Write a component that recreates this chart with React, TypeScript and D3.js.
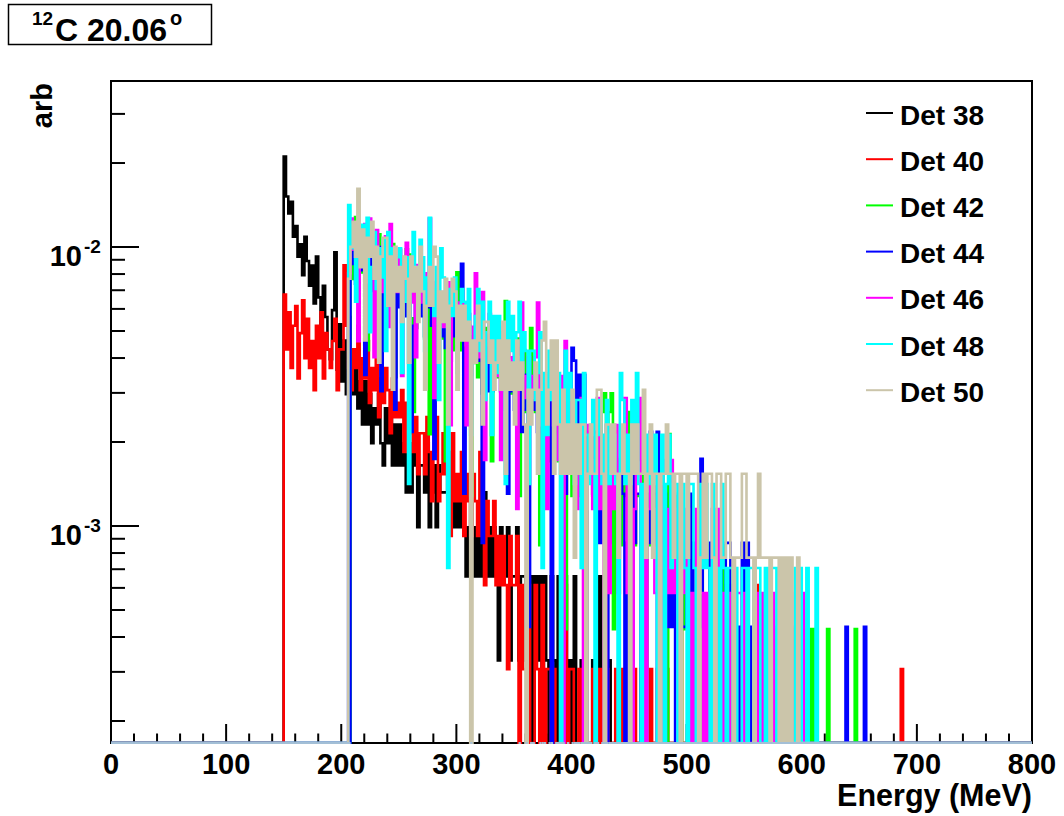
import React from "react";
import * as d3 from "d3";

// Energy spectra, 2 MeV bins. Each detector: first bin edge (MeV), counts per bin, value per count.
const BIN_WIDTH = 2;
const X_TICKS = [0, 100, 200, 300, 400, 500, 600, 700, 800];
const Y_MAJOR = [1e-3, 1e-2];
const Y_LABELS = ["-3", "-2"];

const det38Start = 150;
const det38Unit = 3.3e-4;
const det38Counts = [
  64, 46, 40, 44, 33, 36, 28, 31, 24, 33, 27, 22, 26, 19, 28, 20, 15, 22, 17, 13,
  12, 18, 29, 11, 16, 10, 14, 9, 17, 12, 9, 12, 8, 10, 7, 10, 7, 9, 6, 8,
  7, 9, 6, 5, 8, 6, 8, 5, 7, 5, 7, 5, 6, 4, 6, 4, 6, 5, 3, 5,
  5, 4, 6, 3, 4, 5, 3, 5, 4, 4, 4, 5, 3, 4, 3, 4, 3, 4, 3, 2,
  3, 4, 2, 3, 2, 3, 2, 4, 2, 3, 2, 3, 2, 1, 3, 2, 2, 3, 1, 2,
  2, 3, 1, 2, 2, 1, 2, 2, 0, 2, 1, 2, 0, 2, 1, 0, 2, 1, 0, 2,
  1, 0, 2, 0, 1, 0, 2, 0, 0, 1, 0, 2, 0, 0, 1, 0, 0, 2, 0, 0,
  0, 1, 0, 0, 0,
];

const det40Start = 150;
const det40Unit = 3.07e-4;
const det40Counts = [
  22, 14, 19, 12, 17, 20, 11, 16, 21, 13, 18, 12, 15, 10, 17, 13, 19, 11, 16, 14,
  12, 15, 18, 10, 14, 14, 28, 17, 12, 10, 14, 12, 17, 10, 13, 11, 15, 9, 12, 10,
  13, 8, 11, 9, 12, 10, 7, 11, 8, 9, 8, 10, 6, 9, 7, 9, 6, 8, 5, 7,
  7, 5, 8, 6, 4, 6, 8, 4, 5, 7, 5, 6, 3, 7, 4, 5, 4, 6, 3, 5,
  4, 3, 5, 4, 3, 6, 3, 2, 4, 3, 3, 4, 2, 3, 2, 3, 2, 1, 3, 2,
  2, 3, 0, 2, 1, 1, 2, 0, 0, 2, 1, 0, 2, 0, 1, 1, 0, 1, 0, 0,
  0, 1, 2, 0, 1, 1, 0, 0, 1, 0, 0, 1, 0, 0, 1, 0, 0, 1, 0, 0,
  1, 0, 0, 0, 1, 0, 1, 0, 1, 0, 0, 2, 1, 0, 0, 1, 0, 0, 0, 1,
  0, 0, 1, 0, 0, 0, 1, 0, 0, 0, 0, 0, 4, 0, 0, 0, 0, 0, 1, 0,
  0, 0, 0, 0, 0, 0, 0, 0, 0, 0, 0, 0, 2, 2, 0, 0, 0, 0, 0, 1,
  0, 0, 0, 0, 0, 2, 0, 0, 0, 0, 0, 0, 0, 0, 0, 0, 0, 0, 0, 0,
  0, 0, 0, 0, 0, 0, 0, 0, 0, 0, 0, 0, 0, 0, 0, 0, 0, 0, 0, 0,
  0, 0, 0, 0, 0, 0, 0, 0, 0, 0, 0, 0, 0, 0, 0, 0, 0, 0, 0, 0,
  0, 0, 0, 0, 0, 0, 0, 0, 1, 0,
];

const det42Start = 208;
const det42Unit = 4.27e-4;
const det42Counts = [
  18, 24, 30, 21, 26, 19, 27, 10, 25, 17, 23, 20, 26, 9, 21, 17, 22, 19, 24, 8,
  20, 15, 18, 14, 23, 22, 13, 6, 12, 15, 14, 18, 11, 15, 5, 13, 10, 14, 12, 16,
  11, 4, 9, 12, 10, 12, 19, 10, 11, 9, 10, 8, 3, 9, 11, 8, 10, 7, 9, 12,
  9, 4, 10, 8, 11, 8, 10, 15, 7, 9, 7, 8, 11, 3, 9, 10, 6, 8, 12, 7,
  6, 8, 2, 7, 5, 6, 4, 7, 5, 6, 4, 6, 5, 1, 5, 5, 3, 6, 4, 3,
  4, 5, 0, 4, 5, 3, 4, 5, 3, 6, 7, 4, 6, 7, 1, 3, 4, 2, 5, 3,
  4, 6, 0, 2, 3, 3, 2, 4, 0, 3, 2, 3, 2, 4, 1, 3, 2, 0, 5, 2,
  2, 3, 2, 0, 2, 1, 2, 3, 0, 2, 2, 0, 2, 1, 1, 1, 2, 0, 1, 2,
  1, 2, 1, 0, 1, 1, 0, 1, 1, 0, 0, 1, 0, 1, 0, 1, 0, 1, 0, 0,
  0, 1, 0, 1, 0, 0, 1, 0, 0, 0, 1, 0, 0, 1, 0, 0, 1, 0, 0, 1,
  0, 1, 0, 0, 0, 0, 0, 1, 0, 0, 0, 0, 0, 0, 0, 0, 0, 0, 0, 1,
  0,
];

const det44Start = 208;
const det44Unit = 4.35e-4;
const det44Counts = [
  20, 26, 17, 23, 19, 24, 8, 22, 21, 16, 21, 19, 23, 7, 20, 18, 21, 16, 20, 6,
  19, 14, 17, 21, 13, 15, 5, 12, 16, 14, 13, 16, 11, 14, 17, 12, 4, 10, 13, 11,
  14, 10, 12, 9, 13, 11, 9, 13, 20, 3, 10, 12, 8, 11, 9, 9, 11, 2, 10, 7,
  10, 7, 9, 8, 11, 7, 9, 6, 3, 7, 8, 6, 10, 9, 5, 6, 8, 1, 7, 6,
  7, 5, 6, 4, 6, 5, 8, 0, 7, 5, 4, 6, 5, 3, 5, 6, 10, 9, 4, 8,
  5, 8, 0, 5, 4, 3, 5, 4, 2, 4, 4, 0, 2, 4, 3, 3, 2, 4, 3, 0,
  2, 3, 5, 2, 3, 3, 0, 1, 3, 2, 5, 2, 3, 5, 0, 2, 3, 1, 2, 1,
  3, 0, 2, 3, 1, 1, 2, 3, 0, 2, 2, 1, 4, 1, 0, 1, 2, 1, 0, 1,
  2, 1, 0, 2, 2, 0, 1, 1, 0, 1, 2, 0, 2, 1, 0, 0, 1, 0, 1, 0,
  1, 0, 0, 1, 0, 0, 1, 0, 0, 0, 1, 0, 0, 1, 0, 0, 0, 0, 0, 0,
  0, 0, 0, 0, 0, 0, 0, 0, 0, 0, 0, 0, 0, 0, 0, 1, 0, 0, 0, 0,
  0, 0, 0, 1, 0,
];

const det46Start = 206;
const det46Unit = 5.75e-4;
const det46Counts = [
  14, 22, 17, 20, 8, 19, 16, 21, 13, 22, 17, 7, 20, 16, 12, 18, 19, 9, 21, 14,
  15, 12, 17, 6, 16, 18, 16, 11, 14, 7, 15, 11, 13, 10, 14, 22, 12, 5, 13, 11,
  12, 9, 11, 13, 4, 10, 12, 8, 11, 9, 11, 4, 10, 9, 7, 14, 10, 7, 12, 3,
  8, 10, 7, 9, 6, 9, 3, 8, 6, 8, 7, 6, 8, 2, 7, 11, 6, 5, 7, 6,
  5, 7, 11, 4, 6, 6, 2, 5, 7, 4, 5, 3, 6, 0, 8, 4, 5, 3, 4, 2,
  3, 5, 0, 2, 4, 4, 2, 3, 5, 2, 3, 0, 4, 1, 3, 2, 4, 1, 3, 3,
  5, 1, 3, 0, 2, 3, 5, 1, 2, 0, 2, 3, 2, 1, 0, 2, 3, 0, 2, 1,
  3, 1, 2, 0, 1, 2, 1, 2, 0, 1, 0, 2, 2, 1, 0, 1, 0, 1, 2, 0,
  2, 1, 0, 1, 0, 0, 1, 0, 1, 1, 1, 0, 1, 0, 0, 0, 1, 0, 1, 0,
  1, 0, 1, 0, 1, 0, 0, 1, 0, 0, 1, 0, 0, 0, 1, 0, 0, 1, 0, 0,
];

const det48Start = 206;
const det48Unit = 7.07e-4;
const det48Counts = [
  20, 14, 17, 9, 16, 13, 17, 11, 18, 7, 12, 16, 10, 14, 11, 15, 6, 16, 9, 14,
  12, 13, 14, 5, 9, 13, 2, 11, 16, 10, 12, 15, 13, 6, 11, 18, 10, 8, 12, 4,
  14, 11, 9, 1, 10, 8, 11, 5, 7, 10, 9, 7, 10, 3, 6, 8, 10, 6, 9, 4,
  7, 9, 3, 8, 5, 8, 6, 7, 2, 9, 6, 8, 5, 7, 9, 5, 7, 6, 2, 6,
  6, 4, 5, 7, 1, 5, 3, 6, 4, 5, 4, 5, 0, 4, 6, 3, 5, 4, 2, 4,
  4, 1, 5, 3, 2, 3, 4, 0, 3, 4, 2, 3, 4, 2, 3, 3, 2, 0, 5, 4,
  2, 3, 2, 4, 3, 5, 2, 0, 2, 3, 2, 3, 2, 3, 0, 2, 3, 0, 2, 3,
  1, 2, 2, 0, 2, 2, 1, 0, 2, 2, 1, 0, 1, 2, 1, 2, 1, 0, 2, 1,
  1, 0, 2, 1, 0, 1, 1, 0, 1, 0, 0, 1, 1, 0, 1, 1, 0, 1, 1, 0,
  0, 1, 0, 1, 1, 1, 0, 1, 0, 0, 0, 1, 0, 0, 1, 0, 1, 0, 0, 1,
  0, 0, 0, 1, 0,
];

const det50Start = 206;
const det50Unit = 7.7e-4;
const det50Counts = [
  10, 13, 16, 12, 21, 11, 15, 6, 14, 12, 16, 10, 13, 5, 12, 14, 14, 8, 12, 4,
  13, 9, 11, 7, 12, 10, 5, 12, 9, 11, 7, 13, 9, 4, 8, 11, 8, 13, 12, 5,
  9, 7, 10, 3, 8, 10, 9, 4, 8, 6, 8, 6, 7, 0, 6, 5, 8, 6, 3, 7,
  7, 5, 6, 4, 5, 6, 4, 7, 2, 6, 4, 5, 3, 6, 4, 5, 3, 0, 4, 3,
  4, 5, 2, 4, 6, 7, 3, 4, 6, 2, 6, 3, 2, 4, 2, 3, 2, 4, 1, 3,
  2, 3, 3, 0, 2, 3, 2, 2, 4, 4, 2, 0, 3, 3, 2, 3, 2, 1, 2, 3,
  2, 2, 0, 3, 2, 3, 2, 2, 4, 1, 2, 3, 1, 2, 2, 0, 2, 2, 3, 2,
  2, 1, 2, 2, 0, 2, 2, 1, 2, 2, 2, 2, 0, 1, 2, 1, 2, 2, 1, 0,
  2, 2, 1, 1, 2, 2, 1, 0, 1, 1, 1, 2, 2, 1, 1, 1, 0, 1, 2, 1,
  1, 1, 1, 0, 1, 1, 1, 0, 1, 0, 1, 0, 1, 0, 0, 1, 0, 0, 0, 0,
];

const LEGEND_LABELS = ["Det 38", "Det 40", "Det 42", "Det 44", "Det 46", "Det 48", "Det 50"];
const SERIES_COLORS = ["#000000", "#ff0000", "#00ff00", "#0000ff", "#ff00ff", "#00ffff", "#cbc5aa"];
const SERIES = [
  { start: det38Start, unit: det38Unit, counts: det38Counts },
  { start: det40Start, unit: det40Unit, counts: det40Counts },
  { start: det42Start, unit: det42Unit, counts: det42Counts },
  { start: det44Start, unit: det44Unit, counts: det44Counts },
  { start: det46Start, unit: det46Unit, counts: det46Counts },
  { start: det48Start, unit: det48Unit, counts: det48Counts },
  { start: det50Start, unit: det50Unit, counts: det50Counts },
];

const W = 1064;
const H = 816;
const FRAME = { left: 111, right: 1032, top: 81, bottom: 743 };
const FONT = "'Liberation Sans', Arial, Helvetica, sans-serif";
const ZERO_COLOR = "#a3bfd6";
const HIST_STROKE = 2.6;

const x = d3.scaleLinear().domain([0, 800]).range([FRAME.left, FRAME.right]);
const y = d3.scaleLog().domain([1.668e-4, 0.03936]).range([FRAME.bottom, FRAME.top]);

function histPath(start: number, unit: number, counts: number[]) {
  const p = d3.path();
  p.moveTo(x(0), FRAME.bottom);
  p.lineTo(x(start), FRAME.bottom);
  counts.forEach((c, i) => {
    const e0 = start + i * BIN_WIDTH;
    const e1 = e0 + BIN_WIDTH;
    const yy = c > 0 ? y(c * unit) : FRAME.bottom;
    p.lineTo(x(e0), yy);
    p.lineTo(x(e1), yy);
  });
  p.lineTo(x(start + counts.length * BIN_WIDTH), FRAME.bottom);
  p.lineTo(x(800), FRAME.bottom);
  return p.toString();
}

// Segments along the frame bottom where a histogram is empty
function zeroPath(start: number, counts: number[]) {
  const p = d3.path();
  p.moveTo(x(0), FRAME.bottom);
  p.lineTo(x(start), FRAME.bottom);
  counts.forEach((c, i) => {
    if (c === 0) {
      p.moveTo(x(start + i * BIN_WIDTH), FRAME.bottom);
      p.lineTo(x(start + (i + 1) * BIN_WIDTH), FRAME.bottom);
    }
  });
  p.moveTo(x(start + counts.length * BIN_WIDTH), FRAME.bottom);
  p.lineTo(x(800), FRAME.bottom);
  return p.toString();
}

export default function App() {
  const [d0, d1] = y.domain();
  const yMinor: number[] = [];
  for (let e = -4; e <= -2; e++) {
    for (let m = 2; m <= 9; m++) {
      const v = m * Math.pow(10, e);
      if (v >= d0 && v <= d1) yMinor.push(v);
    }
  }
  const xMinor = d3.range(0, 801, 20).filter((v) => v % 100 !== 0);

  return (
    <svg
      width={W}
      height={H}
      style={{ position: "absolute", left: 0, top: 0, background: "#fff" }}
      fontFamily={FONT}
      fontWeight="bold"
    >
      <defs>
        <clipPath id="frameClip">
          <rect x={FRAME.left} y={FRAME.top} width={FRAME.right - FRAME.left} height={FRAME.bottom - FRAME.top + 1} />
        </clipPath>
      </defs>
      <rect x={0} y={0} width={W} height={H} fill="#fff" />

      {/* frame */}
      <rect
        x={FRAME.left}
        y={FRAME.top}
        width={FRAME.right - FRAME.left}
        height={FRAME.bottom - FRAME.top}
        fill="none"
        stroke="#000"
        strokeWidth={2}
      />

      {/* y axis ticks */}
      {Y_MAJOR.map((v) => (
        <line key={"ym" + v} x1={FRAME.left} x2={FRAME.left + 28} y1={y(v)} y2={y(v)} stroke="#000" strokeWidth={2} />
      ))}
      {yMinor.map((v) => (
        <line key={"yn" + v} x1={FRAME.left} x2={FRAME.left + 14} y1={y(v)} y2={y(v)} stroke="#000" strokeWidth={2} />
      ))}
      {Y_MAJOR.map((v, i) => (
        <text key={"yl" + v} y={y(v) + 19} fontSize={29}>
          <tspan x={82} textAnchor="end">10</tspan>
          <tspan x={84} y={y(v) + 6} fontSize={19}>{Y_LABELS[i]}</tspan>
        </text>
      ))}

      {/* x axis ticks */}
      {X_TICKS.map((v) => (
        <line key={"xm" + v} x1={x(v)} x2={x(v)} y1={FRAME.bottom} y2={FRAME.bottom - 19} stroke="#000" strokeWidth={2} />
      ))}
      {xMinor.map((v) => (
        <line key={"xn" + v} x1={x(v)} x2={x(v)} y1={FRAME.bottom} y2={FRAME.bottom - 9.5} stroke="#000" strokeWidth={2} />
      ))}
      {X_TICKS.map((v) => (
        <text key={"xl" + v} x={x(v)} y={774} fontSize={29} textAnchor="middle">
          {v}
        </text>
      ))}

      {/* histograms */}
      <g clipPath="url(#frameClip)">
        {SERIES.map((s, i) => (
          <path
            key={"h" + i}
            d={histPath(s.start, s.unit, s.counts)}
            fill="none"
            stroke={SERIES_COLORS[i]}
            strokeWidth={HIST_STROKE}
            strokeLinejoin="miter"
          />
        ))}
        {SERIES.map((s, i) => (
          <path key={"z" + i} d={zeroPath(s.start, s.counts)} fill="none" stroke={ZERO_COLOR} strokeWidth={2} />
        ))}
      </g>

      {/* axis titles */}
      <text x={FRAME.right} y={806} fontSize={30.5} textAnchor="end">
        Energy (MeV)
      </text>
      <text transform="translate(52,83) rotate(-90)" fontSize={29} textAnchor="end">
        arb
      </text>

      {/* legend */}
      {LEGEND_LABELS.map((lab, i) => {
        const ly = 113 + i * 46.2;
        return (
          <g key={lab}>
            <line x1={866} x2={893} y1={ly} y2={ly} stroke={SERIES_COLORS[i]} strokeWidth={2} />
            <text x={900} y={ly + 11.5} fontSize={28}>
              {lab}
            </text>
          </g>
        );
      })}

      {/* title box */}
      <rect x={8.5} y={4.5} width={203} height={40} fill="#fff" stroke="#000" strokeWidth={1.5} />
      <text fontSize={32}>
        <tspan x={32} y={25} fontSize={19}>12</tspan>
        <tspan x={55} y={41}>C 20.06</tspan>
        <tspan x={170} y={25} fontSize={20}>o</tspan>
      </text>
    </svg>
  );
}
